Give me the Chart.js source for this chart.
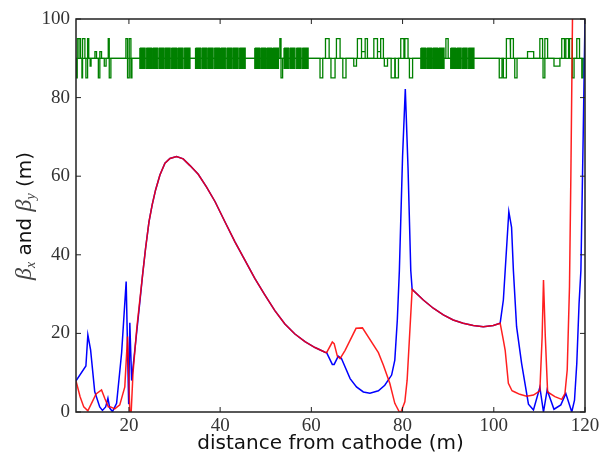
<!DOCTYPE html>
<html>
<head>
<meta charset="utf-8">
<style>
html, body { margin: 0; padding: 0; background: #fff; }
#wrap { width: 600px; height: 456px; }
</style>
<script src="https://cdn.jsdelivr.net/npm/chart.js@4"></script>
</head>
<body>
<div id="wrap"><canvas id="betaChart" width="600" height="456"></canvas></div>
<script>
// tick labels
const xTicks = [20, 40, 60, 80, 100, 120];
const yTicks = [0, 20, 40, 60, 80, 100];

// beta functions
const blueS = [8.4, 10.57, 11, 11.6, 12.5, 13.6, 14.2, 14.9, 15.4, 15.8, 16.4, 17.3, 18.4, 19.4, 19.95, 20.2, 20.6, 21.3, 22.4, 23, 23.65, 24.4, 25.1, 25.85, 26.8, 27.9, 29, 30.45, 31.9, 33.4, 35.2, 37, 38.9, 41.05, 43.25, 45.4, 47.6, 49.8, 52, 54.2, 56.4, 58.6, 60.8, 63, 63.35, 64.6, 65, 65.9, 66.6, 68.5, 69.9, 71.4, 72.85, 74.7, 76.1, 77.6, 78.3, 78.85, 79.3, 80, 80.6, 81.2, 81.8, 82.1, 84.55, 86.74, 88.94, 91.1, 93.3, 95.5, 97.7, 99.9, 101.4, 102.1, 102.5, 103.3, 103.9, 104.3, 105, 106.1, 107.6, 108.7, 110.1, 110.9, 111.7, 113.2, 114.7, 115.8, 117.1, 117.7, 118.2, 118.7, 119.1, 119.6, 120];
const blueBeta = [7.9, 11.7, 19.6, 15.8, 5.2, 1.3, 0.4, 1.3, 3.5, 1, 0.1, 2.2, 15, 33.2, 2, 22.7, 8, 15.8, 28, 34.9, 41.6, 48.4, 52.7, 56.5, 60.3, 63.3, 64.5, 65, 64.4, 62.7, 60.5, 57.3, 53.5, 48.4, 43.3, 38.7, 34, 29.8, 25.8, 22.4, 19.85, 17.9, 16.4, 15.2, 15.1, 12.1, 12.1, 14.2, 13.6, 8.5, 6.4, 5.1, 4.8, 5.4, 6.8, 9.4, 13.2, 23.4, 36, 65, 82.2, 62, 36, 31.2, 28.5, 26.4, 24.7, 23.4, 22.6, 22, 21.7, 22, 22.6, 28.5, 36, 51, 47, 36, 21.7, 12.4, 2, 0.5, 6.3, 0, 5.6, 0.7, 1.8, 4.7, 0, 3, 12.4, 27.6, 36, 70, 100];
const redS = [8.4, 9.3, 10.1, 11, 11.8, 12.8, 14, 14.7, 15.5, 16, 16.9, 18, 19.1, 19.7, 20.2, 20.5, 20.9, 21.75, 23, 23.65, 24.4, 25.1, 25.85, 26.8, 27.9, 29, 30.45, 31.9, 33.4, 35.2, 37, 38.9, 41.05, 43.25, 45.4, 47.6, 49.8, 52, 54.2, 56.4, 58.6, 60.8, 63, 63.35, 64.6, 65, 65.7, 66.3, 67.4, 69.8, 71.2, 74.7, 75.8, 77.2, 78.3, 79.3, 79.65, 80.5, 81, 82.1, 84.55, 86.74, 88.94, 91.1, 93.3, 95.5, 97.7, 99.9, 101.4, 102.1, 102.5, 103.2, 104, 104.6, 105.7, 107.2, 108.7, 110.1, 110.6, 110.9, 111.3, 111.8, 113.4, 114.9, 115.6, 116.1, 116.6, 116.9, 117.3];
const redBeta = [7.9, 3.9, 1.3, 0.3, 2.2, 4.6, 5.6, 3.5, 1.3, 1.3, 0.8, 1.8, 6.4, 19.2, 0, 0, 10, 21.6, 34.9, 41.6, 48.4, 52.7, 56.5, 60.3, 63.3, 64.5, 65, 64.4, 62.7, 60.5, 57.3, 53.5, 48.4, 43.3, 38.7, 34, 29.8, 25.8, 22.4, 19.85, 17.9, 16.4, 15.2, 15.1, 17.8, 17.4, 14.2, 13.6, 15.7, 21.3, 21.4, 15.1, 11.9, 7.3, 2.2, 0, 0, 2.6, 8.1, 31.2, 28.5, 26.4, 24.7, 23.4, 22.6, 22, 21.7, 22, 22.6, 18.3, 15.7, 7.3, 5.4, 5.1, 4.5, 4, 4.3, 5.4, 19.1, 33.6, 19.1, 5.1, 3.9, 3.2, 4.7, 10.7, 31.9, 60, 105];

// lattice elements: [start, end, strength]
const latticeBase = 90;
const magnets = [
  [8.4, 8.67, -5], [8.67, 9.05, 5], [9.05, 9.4, 5], [9.7, 9.84, -5], [9.84, 10.35, 5], [10.57, 10.94, -5], [10.94, 11.2, 5],
  [11.5, 11.7, -2], [12.55, 12.9, 1.7], [13.3, 13.6, -5], [13.64, 14, 1.7], [14.6, 15, -2], [15.47, 15.69, 5], [15.69, 16.05, -5],
  [19.34, 19.7, 5], [19.7, 20.07, -5], [20.07, 20.44, 5], [20.44, 20.66, -5], [53.1, 53.35, 5], [53.35, 53.7, -5],
  [61.9, 62.5, -5], [63.1, 63.9, 5], [64.3, 65.2, -5], [65.5, 66.3, 5], [66.9, 67.6, -5], [69.3, 69.9, -2],
  [70.1, 71, 5], [71, 71.8, 1.7], [71.8, 72.3, 5], [73.7, 74.5, 5], [74.5, 75.2, 1.7], [75.2, 75.8, 5], [76, 76.7, -2],
  [77.5, 78.3, -5], [78.4, 79.1, -5], [79.6, 80.3, 5], [80.5, 81.2, 5], [81.5, 82.2, -5], [89.5, 90, 5],
  [101.2, 101.8, -5], [102.1, 102.7, -5], [102.8, 103.6, 5], [103.7, 104.3, 5], [104.6, 105.1, -5],
  [107.4, 108.75, 1.7], [110.1, 110.7, 5], [110.8, 111.2, -5], [111.2, 111.8, 5], [113.2, 114.5, -2],
  [114.9, 115.5, 5], [115.8, 116.4, 5], [116.6, 117.2, 5], [117.2, 117.6, -5], [118.2, 118.8, 5], [119.3, 119.6, -5]
];
const dipoleStarts = [22.4, 23.8, 25.2, 26.6, 27.9, 29.3, 30.7, 32.1, 34.6, 36, 37.3, 38.7, 40.1, 41.5, 42.8, 44.2, 47.6, 48.9, 50.2, 51.5, 54, 55.3, 56.7, 58, 84, 85.3, 86.6, 87.9, 90.55, 91.85, 93.1, 94.4];
const dipoleEnds = [23.55, 24.95, 26.35, 27.7, 29.05, 30.45, 31.85, 33.4, 35.75, 37.1, 38.45, 39.85, 41.25, 42.6, 43.95, 45.5, 48.65, 49.95, 51.25, 52.8, 55.05, 56.4, 57.75, 59.3, 85.05, 86.35, 87.65, 89.1, 91.6, 92.85, 94.15, 95.66];
const dipoleHalfHeight = 2.6;

const green = 'rgb(0, 128, 0)';

function line(points, color, width) {
  return { data: points, borderColor: color, borderWidth: width, pointRadius: 0, fill: false, tension: 0 };
}

const magnetPath = [];
magnets.forEach(function (m) {
  magnetPath.push({ x: m[0], y: latticeBase }, { x: m[0], y: latticeBase + m[2] }, { x: m[1], y: latticeBase + m[2] }, { x: m[1], y: latticeBase });
});
const dipoleDatasets = dipoleStarts.map(function (s, i) {
  const d = line([
    { x: s, y: latticeBase + dipoleHalfHeight }, { x: dipoleEnds[i], y: latticeBase + dipoleHalfHeight },
    { x: dipoleEnds[i], y: latticeBase - dipoleHalfHeight }, { x: s, y: latticeBase - dipoleHalfHeight },
    { x: s, y: latticeBase + dipoleHalfHeight }
  ], green, 1.2);
  d.fill = 'shape';
  d.backgroundColor = green;
  return d;
});

// first dataset ends up on top, so red goes first
const datasets = [
  line(redS.map(function (s, i) { return { x: s, y: redBeta[i] }; }), 'rgba(255, 0, 0, 0.88)', 1.5),
  line(blueS.map(function (s, i) { return { x: s, y: blueBeta[i] }; }), '#0000ff', 1.5),
  line([{ x: 8.4, y: latticeBase }, { x: 120, y: latticeBase }], green, 1.2),
  line(magnetPath, green, 1.3)
].concat(dipoleDatasets);

// matplotlib style frame with inward ticks on all four sides
const framePlugin = {
  id: 'frame',
  afterDatasetsDraw(chart) {
    const { ctx, chartArea: a, scales } = chart;
    ctx.save();
    ctx.strokeStyle = '#222';
    ctx.lineWidth = 1;
    ctx.beginPath();
    xTicks.forEach(function (t) {
      const x = scales.x.getPixelForValue(t);
      ctx.moveTo(x, a.bottom); ctx.lineTo(x, a.bottom - 5);
      ctx.moveTo(x, a.top); ctx.lineTo(x, a.top + 5);
    });
    yTicks.forEach(function (t) {
      const y = scales.y.getPixelForValue(t);
      ctx.moveTo(a.left, y); ctx.lineTo(a.left + 5, y);
      ctx.moveTo(a.right, y); ctx.lineTo(a.right - 5, y);
    });
    ctx.stroke();
    ctx.lineWidth = 1.5;
    ctx.strokeRect(a.left, a.top, a.right - a.left, a.bottom - a.top);
    ctx.restore();
  }
};

// y title mixes math italics and sans, so it is laid out piece by piece
const yTitlePieces = [
  { text: 'β', font: 'italic 24px "Liberation Serif"', drop: 0, color: '#444' },
  { text: 'x', font: 'italic 14px "Liberation Serif"', drop: 4, color: '#444' },
  { text: ' and ', font: '20px "DejaVu Sans"', drop: 0, color: '#111' },
  { text: 'β', font: 'italic 24px "Liberation Serif"', drop: 0, color: '#444' },
  { text: 'y', font: 'italic 14px "Liberation Serif"', drop: 4, color: '#444' },
  { text: ' (m)', font: '20px "DejaVu Sans"', drop: 0, color: '#111' }
];
const yTitlePlugin = {
  id: 'yTitle',
  afterDraw(chart) {
    const ctx = chart.ctx;
    ctx.save();
    ctx.translate(31, 216);
    ctx.rotate(-Math.PI / 2);
    ctx.textBaseline = 'alphabetic';
    let total = 0;
    yTitlePieces.forEach(function (p) { ctx.font = p.font; total += ctx.measureText(p.text).width; });
    let pos = -total / 2;
    yTitlePieces.forEach(function (p) {
      ctx.font = p.font;
      ctx.fillStyle = p.color;
      ctx.fillText(p.text, pos, p.drop);
      pos += ctx.measureText(p.text).width;
    });
    ctx.restore();
  }
};

new Chart(document.getElementById('betaChart').getContext('2d'), {
  type: 'line',
  data: { datasets: datasets },
  options: {
    responsive: false,
    animation: false,
    layout: { padding: { top: 19, right: 15, left: 0, bottom: 0 } },
    plugins: { legend: { display: false }, tooltip: { enabled: false } },
    scales: {
      x: {
        type: 'linear',
        min: 8.4,
        max: 120,
        grid: { display: false, drawTicks: false },
        border: { display: false },
        afterBuildTicks(scale) { scale.ticks = xTicks.map(function (v) { return { value: v }; }); },
        afterFit(scale) { scale.height = 44; scale.paddingLeft = 0; scale.paddingRight = 0; },
        ticks: { color: '#333', font: { family: '"Liberation Serif"', size: 19 }, padding: 3, maxRotation: 0, autoSkip: false },
        title: { display: true, text: 'distance from cathode (m)', color: '#111', font: { family: '"DejaVu Sans"', size: 20 }, padding: { top: 0, bottom: 0 } }
      },
      y: {
        min: 0,
        max: 100,
        grid: { display: false, drawTicks: false },
        border: { display: false },
        afterBuildTicks(scale) { scale.ticks = yTicks.map(function (v) { return { value: v }; }); },
        afterFit(scale) { scale.width = 76; scale.paddingTop = 0; scale.paddingBottom = 0; },
        ticks: { color: '#333', font: { family: '"Liberation Serif"', size: 19 }, padding: 6, autoSkip: false }
      }
    }
  },
  plugins: [framePlugin, yTitlePlugin]
});
</script>
</body>
</html>
